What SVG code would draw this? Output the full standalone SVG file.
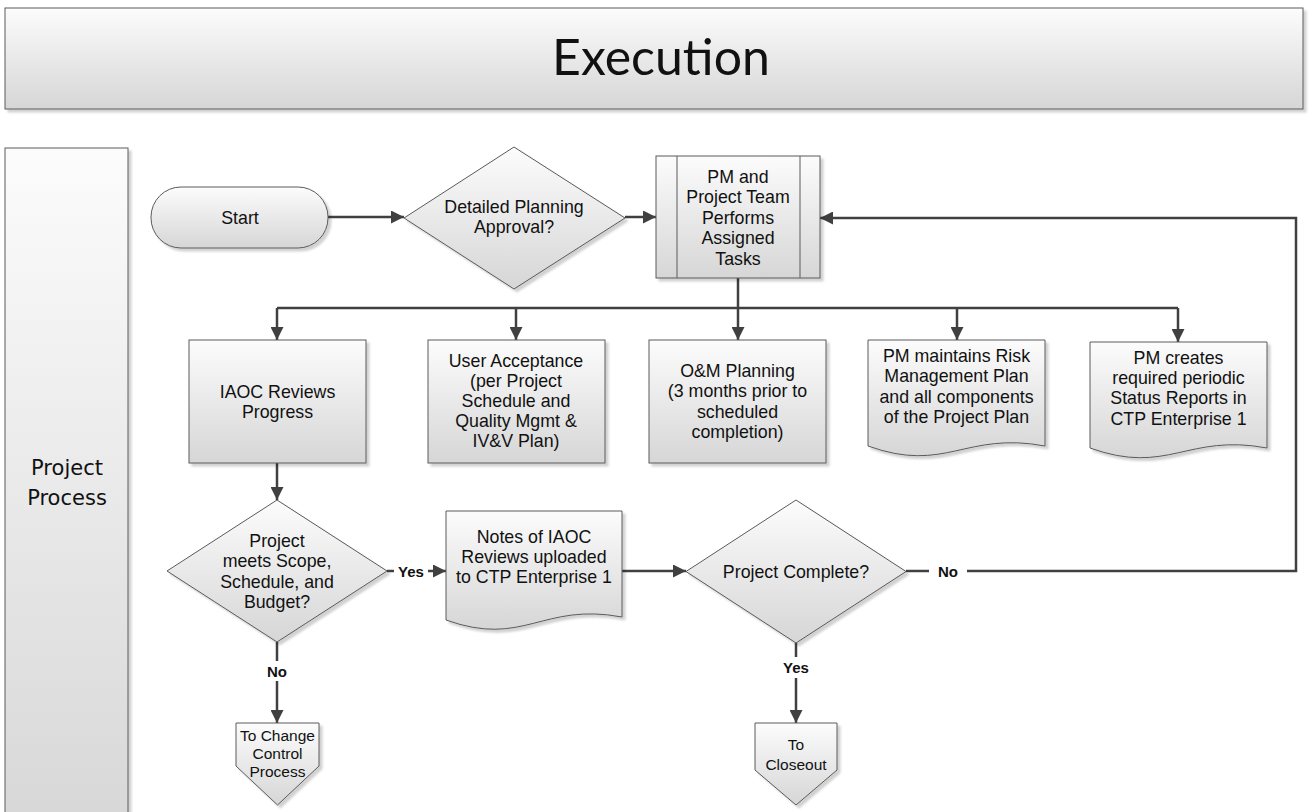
<svg xmlns="http://www.w3.org/2000/svg" width="1309" height="812" viewBox="0 0 1309 812">
<defs>
  <linearGradient id="g" x1="0" y1="0" x2="0" y2="1">
    <stop offset="0" stop-color="#fcfcfc"/>
    <stop offset="1" stop-color="#d6d6d6"/>
  </linearGradient>
  <linearGradient id="gl" gradientUnits="userSpaceOnUse" x1="0" y1="148" x2="0" y2="812">
    <stop offset="0" stop-color="#fcfcfc"/>
    <stop offset="1" stop-color="#d8d8d8"/>
  </linearGradient>
  <filter id="sh" x="-10%" y="-10%" width="130%" height="130%">
    <feDropShadow dx="3" dy="3" stdDeviation="1" flood-color="#000" flood-opacity="0.18"/>
  </filter>
  <marker id="ah" viewBox="0 0 10 10" refX="10" refY="5" markerWidth="13" markerHeight="13" markerUnits="userSpaceOnUse" orient="auto">
    <path d="M0,0 L10,5 L0,10 z" fill="#404040"/>
  </marker>
  <style>
    .s{fill:url(#g);stroke:#5a5a5a;stroke-width:1;filter:url(#sh)}
    .t{font-family:"Liberation Sans",Arial,sans-serif;font-size:17.8px;fill:#111;text-anchor:middle}
    .op{font-size:15.5px}
    .lb{font-family:"Liberation Sans",Arial,sans-serif;font-size:15px;font-weight:bold;fill:#111;text-anchor:middle}
    .c{fill:none;stroke:#404040;stroke-width:2.5}
    .a{marker-end:url(#ah)}
  </style>
</defs>
<rect width="1309" height="812" fill="#fff"/>

<g id="header">
  <rect x="5" y="8" width="1298" height="101" class="s"/>
  <text x="661" y="75" style="font-family:Lato,'Liberation Sans',sans-serif;font-size:50px;fill:#111;text-anchor:middle">Execution</text>
</g>

<g id="lane">
  <rect x="5" y="148" width="123" height="680" fill="url(#gl)" stroke="#5a5a5a" stroke-width="1" filter="url(#sh)"/>
  <text x="67" y="475" style="font-family:'DejaVu Sans',sans-serif;font-size:21px;fill:#111;text-anchor:middle"><tspan x="67">Project</tspan><tspan x="67" dy="30">Process</tspan></text>
</g>

<g id="connectors">
  <line x1="328" y1="217" x2="404" y2="217" class="c a"/>
  <line x1="625" y1="217" x2="656" y2="217" class="c a"/>
  <polyline points="738,278 738,308" class="c"/>
  <polyline points="277,308 1178,308" class="c"/>
  <line x1="277" y1="308" x2="277" y2="340" class="c a"/>
  <line x1="516" y1="308" x2="516" y2="340" class="c a"/>
  <line x1="738" y1="308" x2="738" y2="340" class="c a"/>
  <line x1="957" y1="308" x2="957" y2="340" class="c a"/>
  <line x1="1178" y1="308" x2="1178" y2="342" class="c a"/>
  <line x1="277" y1="463" x2="277" y2="500" class="c a"/>
  <line x1="387" y1="571" x2="446" y2="571" class="c a"/>
  <line x1="622" y1="571" x2="686" y2="571" class="c a"/>
  <line x1="277" y1="642" x2="277" y2="723" class="c a"/>
  <line x1="796" y1="643" x2="796" y2="723" class="c a"/>
  <polyline points="906,571 1296,571 1296,218 820,218" class="c a"/>
  <rect x="394" y="561" width="34" height="20" fill="#fff"/>
  <text x="411" y="576.5" class="lb">Yes</text>
  <rect x="265" y="661" width="24" height="20" fill="#fff"/>
  <text x="277" y="676.5" class="lb">No</text>
  <rect x="781" y="657" width="30" height="21" fill="#fff"/>
  <text x="796" y="672.5" class="lb">Yes</text>
  <rect x="929" y="561" width="38" height="20" fill="#fff"/>
  <text x="948" y="576.5" class="lb">No</text>
</g>

<g id="start">
  <rect x="151" y="187" width="177" height="61" rx="30" ry="30" class="s"/>
  <text x="240" y="223.5" class="t">Start</text>
</g>

<g id="d1">
  <polygon points="514,147 625,218 514,289 404,218" class="s"/>
  <text x="514" y="213" class="t"><tspan x="514">Detailed Planning</tspan><tspan x="514" dy="20.2">Approval?</tspan></text>
</g>

<g id="process">
  <rect x="656" y="156" width="164" height="122" class="s"/>
  <line x1="677" y1="156" x2="677" y2="278" stroke="#5a5a5a" stroke-width="1"/>
  <line x1="800" y1="156" x2="800" y2="278" stroke="#5a5a5a" stroke-width="1"/>
  <text x="738" y="182.5" class="t"><tspan x="738">PM and</tspan><tspan x="738" dy="20.5">Project Team</tspan><tspan x="738" dy="20.5">Performs</tspan><tspan x="738" dy="20.5">Assigned</tspan><tspan x="738" dy="20.5">Tasks</tspan></text>
</g>

<g id="iaoc">
  <rect x="189" y="340" width="177" height="123" class="s"/>
  <text x="277.5" y="397.5" class="t"><tspan x="277.5">IAOC Reviews</tspan><tspan x="277.5" dy="20.2">Progress</tspan></text>
</g>

<g id="ua">
  <rect x="428" y="340" width="177" height="123" class="s"/>
  <text x="516" y="366.5" class="t"><tspan x="516">User Acceptance</tspan><tspan x="516" dy="20.2">(per Project</tspan><tspan x="516" dy="20.2">Schedule and</tspan><tspan x="516" dy="20.2">Quality Mgmt &amp;</tspan><tspan x="516" dy="20.2">IV&amp;V Plan)</tspan></text>
</g>

<g id="om">
  <rect x="649" y="340" width="177" height="123" class="s"/>
  <text x="737.5" y="376.5" class="t"><tspan x="737.5">O&amp;M Planning</tspan><tspan x="737.5" dy="20.5">(3 months prior to</tspan><tspan x="737.5" dy="20.5">scheduled</tspan><tspan x="737.5" dy="20.5">completion)</tspan></text>
</g>

<g id="risk">
  <path d="M868,340 H1045 V446 C965,431 946,474 868,446 Z" class="s"/>
  <text x="956.5" y="361.5" class="t"><tspan x="956.5">PM maintains Risk</tspan><tspan x="956.5" dy="20.5">Management Plan</tspan><tspan x="956.5" dy="20.5">and all components</tspan><tspan x="956.5" dy="20.5">of the Project Plan</tspan></text>
</g>

<g id="status">
  <path d="M1090,342 H1267 V448 C1187,433 1168,476 1090,448 Z" class="s"/>
  <text x="1178.5" y="364" class="t"><tspan x="1178.5">PM creates</tspan><tspan x="1178.5" dy="20.2">required periodic</tspan><tspan x="1178.5" dy="20.2">Status Reports in</tspan><tspan x="1178.5" dy="20.2">CTP Enterprise 1</tspan></text>
</g>

<g id="d2">
  <polygon points="277,500 387,571 277,642 167,571" class="s"/>
  <text x="277" y="546.5" class="t"><tspan x="277">Project</tspan><tspan x="277" dy="20.5">meets Scope,</tspan><tspan x="277" dy="20.5">Schedule, and</tspan><tspan x="277" dy="20.5">Budget?</tspan></text>
</g>

<g id="notes">
  <path d="M446,511 H622 V617 C542,602 524,648 446,620 Z" class="s"/>
  <text x="534" y="542.5" class="t"><tspan x="534">Notes of IAOC</tspan><tspan x="534" dy="20.3">Reviews uploaded</tspan><tspan x="534" dy="20.3">to CTP Enterprise 1</tspan></text>
</g>

<g id="d3">
  <polygon points="796,500 906,571.5 796,643 686,571.5" class="s"/>
  <text x="796" y="578" class="t">Project Complete?</text>
</g>

<g id="cc">
  <polygon points="236,723 319,723 319,766 277.5,805 236,766" class="s"/>
  <text x="277.5" y="740.5" class="t op"><tspan x="277.5">To Change</tspan><tspan x="277.5" dy="18.3">Control</tspan><tspan x="277.5" dy="18.3">Process</tspan></text>
</g>

<g id="closeout">
  <polygon points="755,723 837,723 837,770 796,805 755,770" class="s"/>
  <text x="796" y="749.5" class="t op"><tspan x="796">To</tspan><tspan x="796" dy="20">Closeout</tspan></text>
</g>
</svg>
